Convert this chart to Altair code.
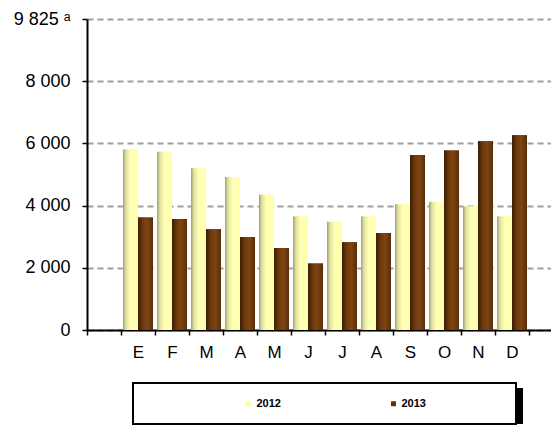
import altair as alt
import pandas as pd

months = ["E", "F", "M", "A", " M ", "J", " J ", " A ", "S", "O", "N", "D"]
years = ["2012", "2013"]
v2012 = [5800, 5730, 5200, 4920, 4350, 3650, 3480, 3650, 4040, 4120, 3970, 3650]
v2013 = [3620, 3570, 3240, 2990, 2640, 2140, 2820, 3120, 5630, 5770, 6070, 6260]
y_ticks = [0, 2000, 4000, 6000, 8000, 10000]
top_label = "9 825 ᵃ"

x_domain = [" "] + months + ["  "]

rows = []
for k, a, b in zip(months, v2012, v2013):
    rows.append({"key": k, "year": "2012", "value": a})
    rows.append({"key": k, "year": "2013", "value": b})
df = pd.DataFrame(rows)

FONT = "Arial"

x_enc = alt.X(
    "key:N",
    sort=x_domain,
    scale=alt.Scale(domain=x_domain, range=[0, 476], paddingInner=0, paddingOuter=0),
    axis=alt.Axis(
        title=None,
        labelAngle=0,
        tickBand="extent", tickSize=5, tickColor="black", tickWidth=1.5,
        domainColor="black", domainWidth=2, labelFont=FONT, labelFontSize=17,
        labelColor="black", labelPadding=9, grid=False,
    ),
)
xo_enc = alt.XOffset("year:N", scale=alt.Scale(domain=years, paddingInner=0, paddingOuter=0.133))
y_enc = alt.Y(
    "value:Q",
    scale=alt.Scale(domain=[0, 10000], nice=False),
    axis=alt.Axis(
        title=None, values=y_ticks,
        labelExpr=f"datum.value == 10000 ? '{top_label}' : replace(format(datum.value, ','), ',', ' ')",
        tickSize=5, tickColor="black", tickWidth=1.5, domainColor="black", domainWidth=2,
        labelFont=FONT, labelFontSize=18, labelColor="black", labelPadding=12,
        grid=True, gridColor="#A0A0A0", gridDash=[6, 4], gridWidth=2,
    ),
)

base = alt.Chart(df).encode(x=x_enc, xOffset=xo_enc, y=y_enc)

legend_bars = base.mark_bar().encode(
    color=alt.Color(
        "year:N",
        scale=alt.Scale(domain=years, range=["#FFFF99", "#663300"]),
        legend=alt.Legend(
            title=None, orient="none", legendX=156, legendY=379, direction="horizontal",
            symbolType="square", symbolSize=25, symbolStrokeWidth=0, labelFont=FONT,
            labelFontWeight="bold", labelFontSize=11, labelColor="black", labelOffset=2.5,
            columnPadding=107, padding=0,
        ),
    )
)

yellow_grad = alt.LinearGradient(
    gradient="linear", x1=0, x2=1, y1=0, y2=0,
    stops=[
        alt.GradientStop(color="#9E9E78", offset=0),
        alt.GradientStop(color="#E2E29E", offset=0.2),
        alt.GradientStop(color="#FFFFB8", offset=0.5),
        alt.GradientStop(color="#FFFFAA", offset=1),
    ],
)
brown_grad = alt.LinearGradient(
    gradient="linear", x1=0, x2=1, y1=0, y2=0,
    stops=[
        alt.GradientStop(color="#3A1D04", offset=0),
        alt.GradientStop(color="#6C380B", offset=0.3),
        alt.GradientStop(color="#7E4512", offset=0.6),
        alt.GradientStop(color="#5A2D07", offset=1),
    ],
)

bars12 = base.transform_filter("datum.year == '2012'").mark_bar(color=yellow_grad)
bars13 = base.transform_filter("datum.year == '2013'").mark_bar(color=brown_grad)

one = alt.Data(values=[{"a": 1}])
shadow = alt.Chart(one).mark_rect(color="black").encode(
    x=alt.value(52), x2=alt.value(436), y=alt.value(369), y2=alt.value(405)
)
box = alt.Chart(one).mark_rect(fill="white", stroke="black", strokeWidth=2).encode(
    x=alt.value(46), x2=alt.value(429), y=alt.value(364), y2=alt.value(405)
)

chart = (
    alt.layer(shadow, box, legend_bars, bars12, bars13)
    .properties(
        width=464, height=311,
        autosize=alt.AutoSizeParams(type="none"),
        padding={"left": 79, "top": 11, "right": 0, "bottom": 95},
    )
    .configure_view(stroke=None)
)

chart.save("out.html", embed_options={"renderer": "svg", "actions": False})
